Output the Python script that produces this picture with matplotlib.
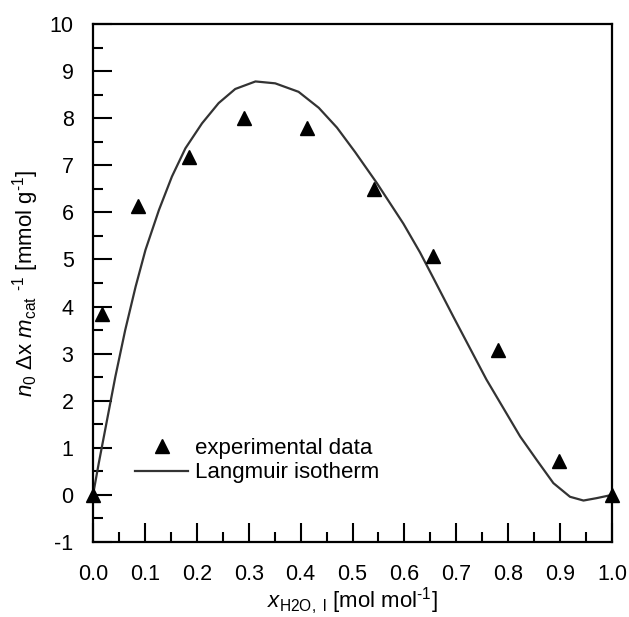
import matplotlib
matplotlib.use("Agg")
import matplotlib.pyplot as plt
from matplotlib.ticker import MultipleLocator, FormatStrFormatter

plt.rcParams['font.family'] = ['Liberation Sans', 'DejaVu Sans']
plt.rcParams['mathtext.fontset'] = 'custom'
plt.rcParams['mathtext.rm'] = 'Liberation Sans'
plt.rcParams['mathtext.it'] = 'Liberation Sans:italic'
plt.rcParams['axes.unicode_minus'] = False

HY = '\u2010'

# experimental data
exp_x = [0.0, 0.018, 0.086, 0.185, 0.291, 0.412, 0.542, 0.656, 0.781, 0.897, 1.0]
exp_y = [0.0, 3.85, 6.13, 7.18, 8.00, 7.79, 6.49, 5.07, 3.08, 0.73, 0.0]

# Langmuir isotherm curve
fit_x = [0.0, 0.011, 0.027, 0.043, 0.062, 0.082, 0.101, 0.127, 0.152, 0.178,
         0.210, 0.242, 0.274, 0.313, 0.351, 0.396, 0.435, 0.470, 0.505, 0.547,
         0.598, 0.630, 0.656, 0.694, 0.758, 0.823, 0.855, 0.887, 0.919, 0.945,
         0.970, 1.0]
fit_y = [0.0, 0.67, 1.59, 2.51, 3.50, 4.42, 5.20, 6.05, 6.76, 7.36,
         7.89, 8.32, 8.62, 8.78, 8.74, 8.56, 8.22, 7.80, 7.28, 6.62,
         5.76, 5.15, 4.60, 3.79, 2.45, 1.24, 0.74, 0.25, -0.04, -0.12,
         -0.07, 0.0]

fig = plt.figure(figsize=(6.29, 6.17), dpi=100)
ax = fig.add_axes([0.1479, 0.1216, 0.973 - 0.1479, 0.9611 - 0.1216])

ax.plot(fit_x, fit_y, color='#333333', lw=1.6, label='Langmuir isotherm', zorder=2,
        solid_joinstyle='round')
ax.plot(exp_x, exp_y, linestyle='none', marker='^', ms=10.5, color='black',
        label='experimental data', zorder=3, clip_on=False)

ax.set_xlim(0, 1.0)
ax.set_ylim(-1, 10)
ax.xaxis.set_major_locator(MultipleLocator(0.1))
ax.xaxis.set_minor_locator(MultipleLocator(0.05))
ax.yaxis.set_major_locator(MultipleLocator(1))
ax.yaxis.set_minor_locator(MultipleLocator(0.5))
ax.xaxis.set_major_formatter(FormatStrFormatter('%.1f'))
ax.yaxis.set_major_formatter(FormatStrFormatter('%d'))

ax.tick_params(which='both', direction='in', top=False, right=False, width=1.5,
               labelsize=15.5, color='black')
ax.tick_params(which='major', length=14)
ax.tick_params(which='minor', length=7.5)
ax.tick_params(axis='x', which='major', pad=16)
ax.tick_params(axis='y', which='major', pad=14)
for s in ax.spines.values():
    s.set_linewidth(1.6)

ax.set_xlabel(r'$x_{\mathrm{H2O,\ l}}$ [mol mol$^{\mathrm{' + HY + r'1}}$]',
              fontsize=16, labelpad=0)
ax.set_ylabel(r'$n_{\mathrm{0}}$ $\Delta$x $m_{\mathrm{cat}}$ $^{\mathrm{' + HY +
              r'1}}$ [mmol g$^{\mathrm{' + HY + r'1}}$]',
              fontsize=16, labelpad=6)

handles, labels = ax.get_legend_handles_labels()
leg = ax.legend(handles[::-1], labels[::-1], frameon=False, fontsize=16,
                loc='upper left', bbox_to_anchor=(135 / 629, 1 - 438 / 617),
                bbox_transform=fig.transFigure, handlelength=2.4,
                handletextpad=0.3, labelspacing=0.15, borderpad=0, borderaxespad=0)

fig.savefig('out.png', dpi=100)
